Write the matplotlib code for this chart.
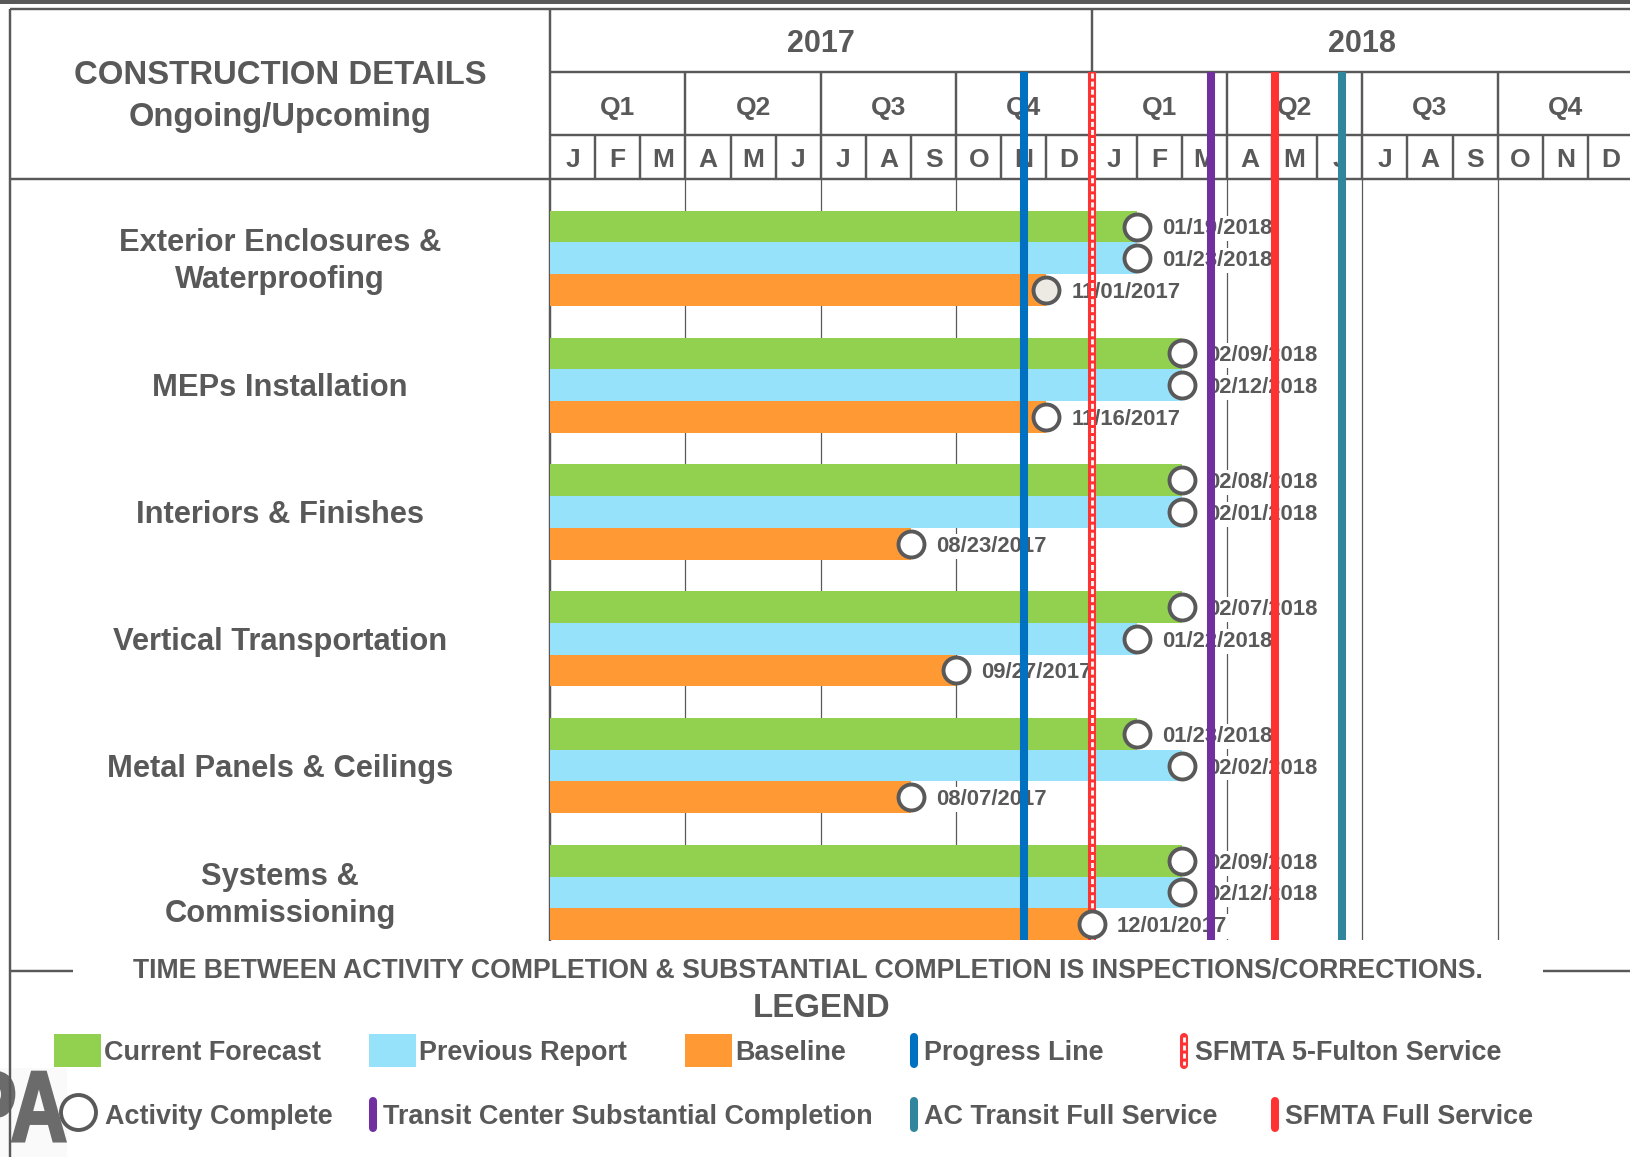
import matplotlib
matplotlib.use("Agg")
import matplotlib.pyplot as plt
from matplotlib import transforms
from matplotlib.patches import Rectangle, PathPatch
from matplotlib.textpath import TextPath
from matplotlib.font_manager import FontProperties

plt.rcParams["font.family"] = ["Liberation Sans", "DejaVu Sans"]
plt.rcParams["font.weight"] = "bold"

# ---------------------------------------------------------------- data
ACTIVITIES = ["Exterior Enclosures &\nWaterproofing", "MEPs Installation",
              "Interiors & Finishes", "Vertical Transportation",
              "Metal Panels & Ceilings", "Systems &\nCommissioning"]
CURRENT_FORECAST = ["01/19/2018", "02/09/2018", "02/08/2018",
                    "02/07/2018", "01/23/2018", "02/09/2018"]
PREVIOUS_REPORT = ["01/23/2018", "02/12/2018", "02/01/2018",
                   "01/22/2018", "02/02/2018", "02/12/2018"]
BASELINE = ["11/01/2017", "11/16/2017", "08/23/2017",
            "09/27/2017", "08/07/2017", "12/01/2017"]
SERIES = ["Current Forecast", "Previous Report", "Baseline"]
SERIES_COLORS = ["#92D050", "#97E2FB", "#FF9933"]

YEARS = ["2017", "2018"]
QUARTERS = ["Q1", "Q2", "Q3", "Q4"]
MONTHS = ["J", "F", "M", "A", "M", "J", "J", "A", "S", "O", "N", "D"]

# vertical milestone lines, position in months after 1 Jan 2017
MILESTONES = ["Progress Line", "SFMTA 5-Fulton Service",
              "Transit Center Substantial Completion", "SFMTA Full Service",
              "AC Transit Full Service"]
MILESTONE_AT = [10.5, 12.0, 14.64, 16.06, 17.55]
MILESTONE_COLORS = ["#0070C0", "#FF3333", "#7030A0", "#FF3131", "#31859C"]

NOTE = ("TIME BETWEEN ACTIVITY COMPLETION & SUBSTANTIAL COMPLETION "
        "IS INSPECTIONS/CORRECTIONS.")

# ---------------------------------------------------------------- layout (pixels)
W, H, DPI = 1631, 1157, 100
GRAY = "#595959"
X_LEFT, X_CHART, X_RIGHT = 10, 550, W
Y_TOP, Y_YEAR, Y_QTR, Y_HEAD, Y_BOT = 9, 72, 135, 179, 940
MONTH_PX = 45.13
FRAME_LW = 1.75
XMAX = (X_RIGHT - X_CHART) / MONTH_PX
NSLOT = 4 * len(ACTIVITIES)


def month_end(date):
    # bars run to the end of the month that holds the date
    m, d, y = (int(p) for p in date.split("/"))
    return (y - 2017) * 12 + m


def fbox(x0, y0, x1, y1):
    return [x0 / W, 1 - y1 / H, (x1 - x0) / W, (y1 - y0) / H]


fig = plt.figure(figsize=(W / DPI, H / DPI), dpi=DPI)
fig.patch.set_facecolor("white")


def ctext(axis, x, y, s, size, ha="center", dx=0, dy=0, color=GRAY, **kw):
    """text whose capitals are centred on y"""
    cap = 0.716 * size / 72 * DPI
    tr = transforms.offset_copy(axis.transData, fig=fig, x=dx, y=-cap / 2 - dy,
                                units="dots")
    return axis.text(x, y, s, transform=tr, fontsize=size, ha=ha,
                     va="baseline", color=color, fontweight="bold", **kw)


def hatched(axis, xs, ys, lw, zorder=2, **kw):
    """red bar with white dashes inside (5-Fulton style)"""
    axis.plot(xs, ys, color=MILESTONE_COLORS[1], lw=lw, zorder=zorder, **kw)
    wl, = axis.plot(xs, ys, color="white", lw=2.0, zorder=zorder + 0.1, **kw)
    wl.set_dashes((1.8, 1.1))


lay = fig.add_axes([0, 0, 1, 1])
lay.set_xlim(0, W)
lay.set_ylim(H, 0)
lay.axis("off")

hdr = fig.add_axes(fbox(X_CHART, Y_TOP, X_RIGHT, Y_HEAD))
hdr.set_xlim(0, XMAX)
hdr.set_ylim(Y_HEAD, Y_TOP)
hdr.axis("off")

axl = fig.add_axes(fbox(X_LEFT, Y_HEAD, X_CHART, Y_BOT))
axl.set_xlim(0, 1)
axl.set_ylim(NSLOT, 0)
axl.axis("off")

ax = fig.add_axes(fbox(X_CHART, Y_HEAD, X_RIGHT, Y_BOT))
ax.set_xlim(0, XMAX)
ax.set_ylim(NSLOT, 0)
ax.axis("off")
ax.patch.set_alpha(0)

# ---------------------------------------------------------------- frame
lay.add_patch(Rectangle((0, 0), W, 3.5, fc=GRAY, ec="none"))
lay.hlines([Y_TOP, Y_HEAD], X_LEFT, W, color=GRAY, lw=FRAME_LW)
lay.vlines(X_LEFT, Y_TOP, H, color=GRAY, lw=FRAME_LW, zorder=4)
lay.vlines(X_CHART, Y_TOP, Y_BOT + 1, color=GRAY, lw=FRAME_LW)
lay.hlines(971, X_LEFT, 73, color=GRAY, lw=FRAME_LW)
lay.hlines(971, 1543, W, color=GRAY, lw=FRAME_LW)

ctext(lay, 280, 72, "CONSTRUCTION DETAILS", 23.7)
ctext(lay, 280, 114, "Ongoing/Upcoming", 23.5)

# ---------------------------------------------------------------- time header
hdr.hlines([Y_YEAR, Y_QTR], 0, XMAX, color=GRAY, lw=FRAME_LW)
for m in range(1, 12 * len(YEARS)):
    top = Y_TOP if m % 12 == 0 else (Y_YEAR if m % 3 == 0 else Y_QTR)
    hdr.vlines(m, top, Y_HEAD, color=GRAY, lw=FRAME_LW)
for k, yr in enumerate(YEARS):
    ctext(hdr, 12 * k + 6, 40.8, yr, 22)
    for q, qn in enumerate(QUARTERS):
        ctext(hdr, 12 * k + 3 * q + 1.5, 105.5, qn, 19)
    for m, mn in enumerate(MONTHS):
        ctext(hdr, 12 * k + m + 0.5, 157.5, mn, 19)

# ---------------------------------------------------------------- gantt
for q in range(3, 12 * len(YEARS), 3):
    ax.axvline(q, color=GRAY, lw=0.9, zorder=1)

for i, name in enumerate(ACTIVITIES):
    rows = name.split("\n")
    for k, ln in enumerate(rows):
        ctext(axl, 0.5, 4 * i + 2.5, ln, 22.2, dy=(k - (len(rows) - 1) / 2) * 37.5)
    for j, dates in enumerate([CURRENT_FORECAST, PREVIOUS_REPORT, BASELINE]):
        y = 4 * i + 1 + j + 0.5
        end = month_end(dates[i])
        ax.barh(y, end, height=1.0, left=0, color=SERIES_COLORS[j], lw=0, zorder=2)
        face = "#ECEAE2" if (i, j) == (0, 2) else "white"
        ax.plot(end, y, "o", ms=18.7, mfc=face, mec=GRAY, mew=2.8, zorder=7,
                clip_on=False)
        ctext(ax, end, y, dates[i], 15.9, ha="left", dx=25, zorder=3,
              bbox=dict(fc="white", ec="none", pad=1.5))

# milestone lines run up through the month and quarter rows of the header
y_up = -(Y_HEAD - Y_YEAR) / (Y_BOT - Y_HEAD) * NSLOT
for name, x, c in zip(MILESTONES, MILESTONE_AT, MILESTONE_COLORS):
    if "5-Fulton" in name:
        hatched(ax, [x, x], [NSLOT, y_up], 5.8, zorder=5, clip_on=False,
                solid_capstyle="butt")
    else:
        ax.plot([x, x], [NSLOT, y_up], color=c, lw=5.8, zorder=5,
                clip_on=False, solid_capstyle="butt")

# ---------------------------------------------------------------- note + legend
ctext(lay, 808, 968.5, NOTE, 19.2)
ctext(lay, 822, 1005.5, "LEGEND", 23.8)

ROW1, ROW2 = 1050.5, 1114
LEG_FS = 19.45
for lab, col, x in zip(SERIES, SERIES_COLORS, [54, 369, 685]):
    lay.add_patch(Rectangle((x, ROW1 - 16.5), 47, 33, fc=col, ec="none"))
    ctext(lay, x + 50.5, ROW1, lab, LEG_FS, ha="left")

leg_lines = [(MILESTONES[0], 914, ROW1), (MILESTONES[1], 1184.5, ROW1),
             (MILESTONES[2], 373, ROW2), (MILESTONES[4], 914, ROW2),
             (MILESTONES[3], 1275, ROW2)]
for lab, x, y in leg_lines:
    col = MILESTONE_COLORS[MILESTONES.index(lab)]
    if "5-Fulton" in lab:
        hatched(lay, [x, x], [y - 14, y + 14], 5.8, solid_capstyle="round")
    else:
        lay.plot([x, x], [y - 13.5, y + 13.5], color=col, lw=5.8,
                 solid_capstyle="round")
    ctext(lay, x + 10.5, y, lab, LEG_FS, ha="left")

# small logo remnant at the bottom-left corner (cut by the page edge)
lay.add_patch(Rectangle((0, 1068), 67, 89, fc="#FAFAFA", ec="none", zorder=0))
tp = TextPath((0, 0), "TJPA", size=100,
              prop=FontProperties(family="Liberation Sans", weight="bold"))
ext_tp = tp.get_extents()
sx = 0.78
logo_tr = transforms.Affine2D().scale(sx, -1.0).translate(65 - ext_tp.x1 * sx, 1141)
lay.add_patch(PathPatch(logo_tr.transform_path(tp), fc="#6B6B6B", ec="#6B6B6B",
                        lw=2.2, zorder=1))
lay.text(67, 1163, "TRANSBAY JOINT POWERS AUTHORITY", fontsize=6,
         color="#6B6B6B", ha="right", va="baseline", zorder=1)

lay.plot(77.7, 1112, "o", ms=25.2, mfc="white", mec=GRAY, mew=2.8, zorder=5)
ctext(lay, 104.6, ROW2, "Activity Complete", LEG_FS, ha="left")

fig.savefig("out.png", dpi=DPI, facecolor="white")
